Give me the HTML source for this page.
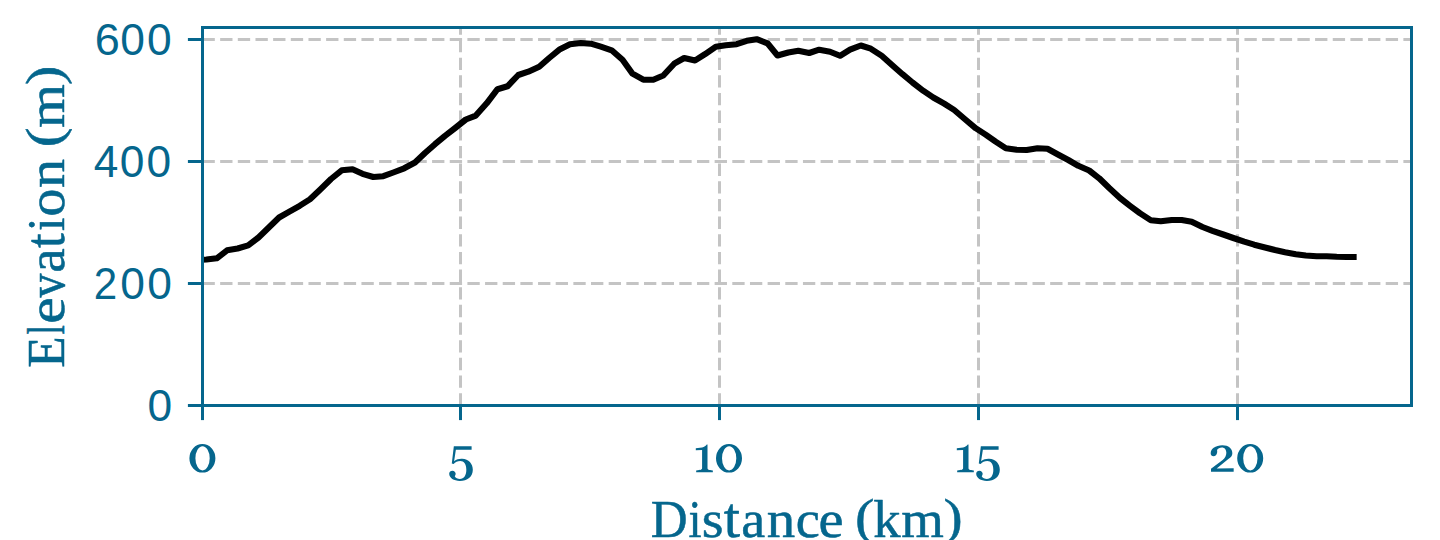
<!DOCTYPE html>
<html><head><meta charset="utf-8"><title>Elevation profile</title>
<style>
html,body{margin:0;padding:0;background:#fff;}
body{width:1440px;height:540px;overflow:hidden;position:relative;font-family:"Liberation Sans",sans-serif;}
svg{position:absolute;left:0;top:0;display:block;}
.yt{font-family:"Liberation Sans",sans-serif;fill:#05668d;}
.se{font-family:"Liberation Serif",serif;fill:#05668d;}
</style></head><body>
<svg width="1440" height="540" viewBox="0 0 1440 540">
<rect x="0" y="0" width="1440" height="540" fill="#ffffff"/>
<g stroke="#c4c4c4" stroke-width="3.00" stroke-dasharray="12.33 5.33" fill="none">
<line x1="460.50" y1="405.50" x2="460.50" y2="27.50"/>
<line x1="719.50" y1="405.50" x2="719.50" y2="27.50"/>
<line x1="978.50" y1="405.50" x2="978.50" y2="27.50"/>
<line x1="1237.50" y1="405.50" x2="1237.50" y2="27.50"/>
<line x1="202.50" y1="283.50" x2="1411.50" y2="283.50"/>
<line x1="202.50" y1="161.50" x2="1411.50" y2="161.50"/>
<line x1="202.50" y1="39.50" x2="1411.50" y2="39.50"/>
</g>
<clipPath id="ax"><rect x="202.50" y="27.50" width="1209.00" height="378.00"/></clipPath>
<polyline clip-path="url(#ax)" points="202.4,259.7 206.4,259.5 216.8,258.3 227.1,250.3 237.6,248.5 248.2,245.4 258.5,237.5 268.8,227.5 279.1,217.5 289.4,211.7 299.7,205.8 310.0,199.2 320.3,189.5 331.0,179.0 341.7,170.3 352.5,169.2 362.5,173.8 373.3,177.0 383.3,176.2 393.3,172.5 404.2,168.3 415.0,162.5 425.0,153.0 435.0,144.2 445.0,135.8 455.8,127.5 465.8,119.5 475.8,115.6 486.7,103.3 497.5,89.2 507.5,86.3 518.3,75.0 528.3,71.7 539.2,66.7 549.2,58.0 560.0,49.2 570.0,44.2 580.8,43.0 590.8,43.7 600.8,46.7 611.7,50.3 622.5,59.7 632.5,73.7 643.3,79.7 653.3,79.7 663.3,75.5 674.2,63.7 684.2,58.0 695.0,60.5 705.0,54.2 715.8,46.7 725.8,45.3 736.7,44.2 746.7,40.8 756.7,39.2 767.5,43.3 777.5,55.5 788.3,52.5 798.3,50.8 809.2,53.0 819.2,49.7 830.0,51.7 840.0,55.8 850.0,49.7 860.8,45.5 870.8,48.7 881.7,55.8 892.0,65.0 902.5,74.2 912.5,82.5 923.3,90.8 933.3,97.5 944.2,103.7 954.2,110.0 965.0,119.2 975.8,128.3 985.8,134.7 995.8,141.7 1005.8,148.2 1016.7,149.7 1026.7,150.0 1037.5,148.2 1047.5,148.8 1057.5,154.2 1068.3,160.0 1078.3,165.8 1089.2,170.5 1099.2,178.3 1109.2,188.0 1120.0,198.0 1130.0,205.8 1140.0,213.3 1150.8,220.2 1160.8,221.3 1171.7,220.0 1181.7,220.0 1191.7,221.7 1202.5,227.0 1212.5,230.8 1223.3,234.5 1233.3,238.0 1244.2,241.7 1254.2,244.7 1265.0,247.5 1275.0,250.0 1285.0,252.2 1295.8,254.2 1305.8,255.5 1316.7,256.2 1326.7,256.3 1336.7,256.8 1346.7,257.0 1353.6,257.0" fill="none" stroke="#000000" stroke-width="6.1" stroke-linejoin="round" stroke-linecap="square"/>
<g stroke="#05668d" stroke-width="3.00" fill="none">
<line x1="202.50" y1="405.50" x2="202.50" y2="420.10"/>
<line x1="460.50" y1="405.50" x2="460.50" y2="420.10"/>
<line x1="719.50" y1="405.50" x2="719.50" y2="420.10"/>
<line x1="978.50" y1="405.50" x2="978.50" y2="420.10"/>
<line x1="1237.50" y1="405.50" x2="1237.50" y2="420.10"/>
<line x1="202.50" y1="405.50" x2="187.90" y2="405.50"/>
<line x1="202.50" y1="283.50" x2="187.90" y2="283.50"/>
<line x1="202.50" y1="161.50" x2="187.90" y2="161.50"/>
<line x1="202.50" y1="39.50" x2="187.90" y2="39.50"/>
<rect x="202.50" y="27.50" width="1209.00" height="378.00" stroke-linejoin="miter"/>
</g>
<g class="yt" font-size="44.6">
<g transform="translate(0 420.75)"><text transform="translate(147.57 0.00) scale(0.9944 1.0000)">0</text></g>
<g transform="translate(0 298.75)"><text transform="translate(93.68 0.00) scale(0.9450 1.0000)">2</text><text transform="translate(120.27 0.00) scale(0.9944 1.0000)">0</text><text transform="translate(147.17 0.00) scale(0.9944 1.0000)">0</text></g>
<g transform="translate(0 176.75)"><text transform="translate(93.78 0.00) scale(0.9922 1.0000)">4</text><text transform="translate(119.87 0.00) scale(0.9944 1.0000)">0</text><text transform="translate(146.57 0.00) scale(0.9944 1.0000)">0</text></g>
<g transform="translate(0 54.75)"><text transform="translate(94.81 0.00) scale(1.0107 1.0000)">6</text><text transform="translate(120.27 0.00) scale(0.9944 1.0000)">0</text><text transform="translate(146.97 0.00) scale(0.9944 1.0000)">0</text></g>
</g>
<g fill="#05668d" fill-rule="evenodd">
<path transform="translate(189.40 472.20) " d="M0,-13.85 a13,14.25 0 1,0 26,0 a13,14.25 0 1,0 -26,0 Z M6.0,-13.85 a7.15,12.05 0 1,0 14.3,0 a7.15,12.05 0 1,0 -14.3,0 Z"/>
<path transform="translate(449.20 472.20) scale(0.092593) translate(-100 -367.2)" d="M150,88 L342,88 L342,125 L172,125 L153,248 C180,228 210,220 240,222 C310,225 355,275 355,340 C355,415 295,462 215,462 C150,462 100,430 100,385 C100,365 115,352 135,352 C155,352 170,367 170,385 C170,395 166,402 160,410 C170,428 190,440 215,440 C260,440 285,400 285,340 C285,280 260,246 220,246 C190,246 165,258 148,278 L128,272 Z"/>
<path transform="translate(695.80 472.20) scale(0.074074) translate(-80 -459)" d="M80,135 L165,127 C195,118 215,105 228,85 L238,85 L238,400 C238,425 250,432 310,435 L310,458 L85,458 L85,435 C150,432 165,425 165,400 L165,160 L80,162 Z"/>
<path transform="translate(716.00 472.20) " d="M0,-13.85 a13,14.25 0 1,0 26,0 a13,14.25 0 1,0 -26,0 Z M6.0,-13.85 a7.15,12.05 0 1,0 14.3,0 a7.15,12.05 0 1,0 -14.3,0 Z"/>
<path transform="translate(956.80 472.20) scale(0.074074) translate(-80 -459)" d="M80,135 L165,127 C195,118 215,105 228,85 L238,85 L238,400 C238,425 250,432 310,435 L310,458 L85,458 L85,435 C150,432 165,425 165,400 L165,160 L80,162 Z"/>
<path transform="translate(976.20 472.20) scale(0.092593) translate(-100 -367.2)" d="M150,88 L342,88 L342,125 L172,125 L153,248 C180,228 210,220 240,222 C310,225 355,275 355,340 C355,415 295,462 215,462 C150,462 100,430 100,385 C100,365 115,352 135,352 C155,352 170,367 170,385 C170,395 166,402 160,410 C170,428 190,440 215,440 C260,440 285,400 285,340 C285,280 260,246 220,246 C190,246 165,258 148,278 L128,272 Z"/>
<path transform="translate(1210.67 472.20) scale(0.066667) translate(-70 -480)" d="M70,195 C70,160 90,135 115,115 C150,90 195,75 245,75 C340,75 395,125 395,195 C395,235 375,258 335,283 L160,425 L415,420 L415,472 L75,472 L75,428 L250,297 C285,268 305,235 305,190 C305,140 280,108 238,108 C205,108 180,122 165,148 C175,175 165,240 115,240 C88,240 70,222 70,195 Z"/>
<path transform="translate(1237.20 472.20) " d="M0,-13.85 a13,14.25 0 1,0 26,0 a13,14.25 0 1,0 -26,0 Z M6.0,-13.85 a7.15,12.05 0 1,0 14.3,0 a7.15,12.05 0 1,0 -14.3,0 Z"/>
</g>
<g class="se" font-size="52.7" stroke="#05668d" stroke-width="0.5" stroke-linejoin="round">
<g transform="translate(0 537.4)"><text transform="translate(650.78 0.00) scale(0.9686 1.0000)">D</text><text transform="translate(688.41 0.00) scale(0.8937 1.0000)">i</text><text transform="translate(701.70 0.00) scale(1.0643 1.0000)">s</text><text transform="translate(723.83 0.00) scale(1.1108 1.0700)">t</text><text transform="translate(741.20 0.00) scale(1.0232 1.0000)">a</text><text transform="translate(766.79 0.00) scale(1.0804 1.0000)">n</text><text transform="translate(795.68 0.00) scale(1.0297 1.0000)">c</text><text transform="translate(818.39 0.00) scale(1.0715 1.0000)">e</text><text transform="translate(855.03 -3.20) scale(1.1082 0.9500)">(</text><text transform="translate(873.36 0.00) scale(1.0376 1.0000)">k</text><text transform="translate(901.15 0.00) scale(1.0394 1.0000)">m</text><text transform="translate(943.54 -3.20) scale(1.0934 0.9500)">)</text></g>
<g transform="translate(64.2 366.3) rotate(-90)"><text transform="translate(-1.48 0.00) scale(0.9769 1.0000)">E</text><text transform="translate(31.73 0.00) scale(0.6384 1.0000)">l</text><text transform="translate(42.46 0.00) scale(1.1382 1.0000)">e</text><text transform="translate(68.90 0.00) scale(0.9070 1.0000)">v</text><text transform="translate(93.66 0.00) scale(1.0472 1.0000)">a</text><text transform="translate(118.18 0.00) scale(1.0059 1.0700)">t</text><text transform="translate(135.28 0.00) scale(0.9177 1.0000)">i</text><text transform="translate(149.87 0.00) scale(1.0611 1.0000)">o</text><text transform="translate(178.26 0.00) scale(1.1050 1.0000)">n</text><text transform="translate(219.08 -3.20) scale(1.1304 0.9500)">(</text><text transform="translate(238.21 0.00) scale(1.0727 1.0000)">m</text><text transform="translate(281.34 -3.20) scale(1.0934 0.9500)">)</text></g>
</g>
</svg>
</body></html>
